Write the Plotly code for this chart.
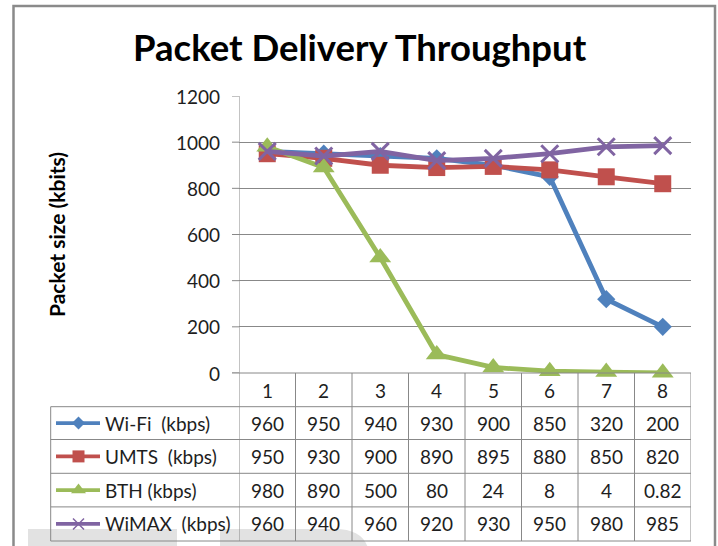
import plotly.graph_objects as go

# ---------------- data ----------------
categories = [1, 2, 3, 4, 5, 6, 7, 8]
wifi = [960, 950, 940, 930, 900, 850, 320, 200]
umts = [950, 930, 900, 890, 895, 880, 850, 820]
bth = [980, 890, 500, 80, 24, 8, 4, 0.82]
wimax = [960, 940, 960, 920, 930, 950, 980, 985]
series_names = ["Wi-Fi\u00a0 (kbps)", "UMTS\u00a0 (kbps)", "BTH (kbps)", "WiMAX\u00a0 (kbps)"]
y_ticks = [0, 200, 400, 600, 800, 1000, 1200]

# ---------------- styling ----------------
W, H = 718, 546
FONT = "Lato"
TXT = "#1e1e1e"
colors = ["#4F81BD", "#C0504D", "#9BBB59", "#8064A2"]
symbols = ["diamond", "square", "triangle-up", "x-thin"]
msizes = [14, 17, 19, 17]
key_sizes = [10, 12, 13, 11]
GRID = "#888888"


def px(x):
    return x / W


def py(y):
    return 1 - y / H


# plot area (pixels)
PL, PR, PT, PB = 239, 691, 96, 373
# table rows (pixels)
row_edges = [406.7, 439.5, 473.3, 506.9, 541]
row_centers = [(row_edges[i] + row_edges[i + 1]) / 2 for i in range(4)]
header_center = 390
TL = 50.7

all_series = [wifi, umts, bth, wimax]

fig = go.Figure()

for name, vals, c, s, ms in zip(series_names, all_series, colors, symbols, msizes):
    marker = dict(symbol=s, size=ms, color=c)
    if s == "x-thin":
        marker["line"] = dict(width=3, color=c)
    else:
        marker["line"] = dict(width=0)
    fig.add_trace(go.Scatter(
        x=categories, y=vals, name=name, mode="lines+markers",
        line=dict(color=c, width=4.8), marker=marker,
        cliponaxis=False, showlegend=False, xaxis="x", yaxis="y"))

# legend keys inside the table (pixel axes)
for i, (c, s, ks) in enumerate(zip(colors, symbols, key_sizes)):
    yc = row_centers[i]
    fig.add_trace(go.Scatter(
        x=[56, 100], y=[yc, yc], mode="lines", line=dict(color=c, width=3.8),
        showlegend=False, hoverinfo="skip", xaxis="x2", yaxis="y2"))
    mk = dict(symbol=s, size=ks, color=c, line=dict(width=0))
    if s == "x-thin":
        mk["line"] = dict(width=1.5, color=c)
    fig.add_trace(go.Scatter(
        x=[78.5], y=[yc], mode="markers", marker=mk,
        showlegend=False, hoverinfo="skip", xaxis="x2", yaxis="y2"))

shapes = []
# watermark blocks at bottom
shapes.append(dict(type="rect", xref="paper", yref="paper", x0=px(28), x1=px(177),
                   y0=py(548), y1=py(529), fillcolor="#e2e2e2", line=dict(width=0), layer="below"))
shapes.append(dict(type="path", xref="paper", yref="paper",
                   path=f"M {px(220)},{py(548)} L {px(220)},{py(529)} L {px(335)},{py(529)} "
                        f"Q {px(362)},{py(529)} {px(368)},{py(548)} Z",
                   fillcolor="#e2e2e2", line=dict(width=0), layer="below"))
# outer border
shapes.append(dict(type="rect", xref="paper", yref="paper", x0=px(13.5), x1=px(715),
                   y0=py(560), y1=py(6), line=dict(color="#8a8a8a", width=2.5),
                   fillcolor="rgba(0,0,0,0)"))
# table horizontal lines
for ye in row_edges:
    shapes.append(dict(type="line", xref="paper", yref="paper", x0=px(TL), x1=px(PR),
                       y0=py(ye), y1=py(ye), line=dict(color=GRID, width=1)))
# table left border
shapes.append(dict(type="line", xref="paper", yref="paper", x0=px(TL), x1=px(TL),
                   y0=py(row_edges[0]), y1=py(row_edges[-1]), line=dict(color=GRID, width=1)))
# vertical lines at category boundaries (axis line continues through table)
for k in range(len(categories) + 1):
    xb = categories[0] - 0.5 + k
    shapes.append(dict(type="line", xref="x", yref="paper", x0=xb, x1=xb,
                       y0=py(PB if k > 0 else PT), y1=py(row_edges[-1]),
                       line=dict(color=GRID, width=1)))
# baseline at 0 extending to tick
shapes.append(dict(type="line", xref="paper", yref="paper", x0=px(232), x1=px(PR),
                   y0=py(PB), y1=py(PB), line=dict(color=GRID, width=1)))
# y-axis ticks
for t in y_ticks:
    shapes.append(dict(type="line", xref="paper", yref="y", x0=px(232), x1=px(PL),
                       y0=t, y1=t, line=dict(color=GRID, width=1)))

annotations = []
# title
annotations.append(dict(text="<b>Packet Delivery Throughput</b>", xref="paper", yref="paper",
                        x=px(360), y=py(47), showarrow=False, xanchor="center", yanchor="middle",
                        font=dict(family=FONT, size=36.5, color="#000000")))
# y-axis title
annotations.append(dict(text="<b>Packet size (kbits)</b>", xref="paper", yref="paper",
                        x=px(56), y=py(235), showarrow=False, textangle=-90,
                        xanchor="center", yanchor="middle",
                        font=dict(family=FONT, size=21, color="#000000")))
# y tick labels
for t in y_ticks:
    annotations.append(dict(text=str(t), xref="paper", yref="y", x=px(222), y=t,
                            showarrow=False, xanchor="right", yanchor="middle",
                            font=dict(family=FONT, size=19, color=TXT)))
# category header
for c in categories:
    annotations.append(dict(text=str(c), xref="x", yref="paper", x=c, y=py(header_center),
                            showarrow=False, xanchor="center", yanchor="middle",
                            font=dict(family=FONT, size=19, color=TXT)))
# table rows
for i, (name, vals) in enumerate(zip(series_names, all_series)):
    yc = row_centers[i]
    annotations.append(dict(text=name, xref="paper", yref="paper", x=px(103), y=py(yc),
                            showarrow=False, xanchor="left", yanchor="middle",
                            font=dict(family=FONT, size=19, color=TXT)))
    for c, v in zip(categories, vals):
        annotations.append(dict(text=f"{v:g}", xref="x", yref="paper", x=c, y=py(yc),
                                showarrow=False, xanchor="center", yanchor="middle",
                                font=dict(family=FONT, size=19, color=TXT)))

fig.update_layout(
    width=W, height=H, autosize=False,
    margin=dict(l=0, r=0, t=0, b=0, pad=0),
    paper_bgcolor="white", plot_bgcolor="rgba(0,0,0,0)",
    xaxis=dict(domain=[px(PL), px(PR)], range=[0.5, 8.5], showgrid=False, zeroline=False,
               showline=False, showticklabels=False, ticks="", fixedrange=True),
    yaxis=dict(domain=[py(PB), py(PT)], range=[0, 1200], tickvals=y_ticks,
               showgrid=True, gridcolor=GRID, gridwidth=1, zeroline=False,
               showline=False, showticklabels=False, ticks="", fixedrange=True),
    xaxis2=dict(domain=[0, 1], range=[0, W], visible=False, anchor="y2", fixedrange=True),
    yaxis2=dict(domain=[0, 1], range=[H, 0], visible=False, anchor="x2", fixedrange=True),
    shapes=shapes, annotations=annotations, showlegend=False,
)

fig.write_html(
    "out.html",
    config={"displayModeBar": False},
    post_script="document.body.style.margin='0';document.body.style.overflow='hidden';",
)
